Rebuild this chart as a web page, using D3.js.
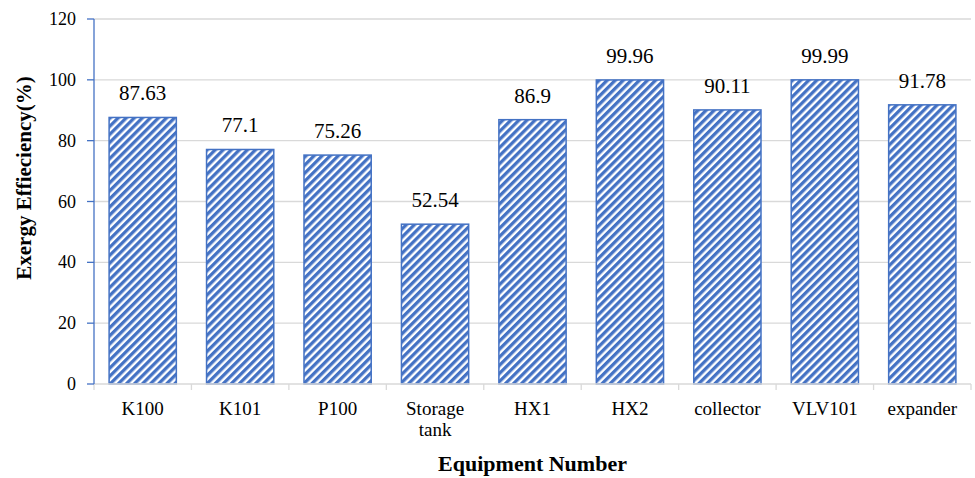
<!DOCTYPE html>
<html><head><meta charset="utf-8">
<script src="https://cdn.jsdelivr.net/npm/d3@7"></script>
<style>body{margin:0;background:#fff}</style>
</head><body>
<svg id="c" width="975" height="478"></svg>
<script>
const categories = ["K100","K101","P100","Storage\ntank","HX1","HX2","collector","VLV101","expander"];
const values = [87.63, 77.1, 75.26, 52.54, 86.9, 99.96, 90.11, 99.99, 91.78];
const valueLabels = ["87.63","77.1","75.26","52.54","86.9","99.96","90.11","99.99","91.78"];
const yTicks = [0,20,40,60,80,100,120];

const svg = d3.select("#c");
const m = {l:94, r:971, t:19, b:384};
const blue = "#4472C4";
const font = "'Liberation Serif','Times New Roman',serif";

const x = d3.scaleBand().domain(categories).range([m.l, m.r]).paddingInner(0.31).paddingOuter(0.155);
const xb = d3.scaleBand().domain(categories).range([m.l, m.r]);
const y = d3.scaleLinear().domain([0,120]).range([m.b, m.t]);

const defs = svg.append("defs");
const P = 5.7;
const pat = defs.append("pattern").attr("id","hatch").attr("patternUnits","userSpaceOnUse")
  .attr("width",P).attr("height",P).attr("patternTransform","rotate(45)");
pat.append("rect").attr("width",P).attr("height",P).attr("fill","#fff");
pat.append("rect").attr("x",0).attr("width",3.3).attr("height",P).attr("fill",blue);

// gridlines
svg.append("g").selectAll("line").data(yTicks.filter(d=>d>0)).join("line")
  .attr("x1",m.l).attr("x2",m.r).attr("y1",d=>y(d)).attr("y2",d=>y(d))
  .attr("stroke","#d9d9d9").attr("stroke-width",1.3);

// bars
svg.append("g").selectAll("rect").data(values).join("rect")
  .attr("x",(d,i)=>x(categories[i])).attr("width",x.bandwidth())
  .attr("y",d=>y(d)).attr("height",d=>y(0)-y(d))
  .attr("fill","url(#hatch)").attr("stroke",blue).attr("stroke-width",1.5);

// data labels
svg.append("g").selectAll("text").data(values).join("text")
  .attr("x",(d,i)=>x(categories[i])+x.bandwidth()/2).attr("y",d=>y(d)-17)
  .attr("text-anchor","middle").attr("font-family",font).attr("font-size",21).attr("fill","#000")
  .text((d,i)=>valueLabels[i]);

// x axis
const gx = svg.append("g");
gx.append("line").attr("x1",m.l).attr("x2",m.r).attr("y1",m.b).attr("y2",m.b).attr("stroke","#d9d9d9").attr("stroke-width",1.3);
const bounds = categories.map(c=>xb(c)).concat([m.r]);
gx.selectAll("line.t").data(bounds).join("line").attr("class","t")
  .attr("x1",d=>d).attr("x2",d=>d).attr("y1",m.b).attr("y2",m.b+6).attr("stroke","#d9d9d9").attr("stroke-width",1.3);
gx.selectAll("text").data(categories).join("text")
  .attr("text-anchor","middle").attr("font-family",font).attr("font-size",19).attr("fill","#000")
  .each(function(d){
    const t = d3.select(this);
    d.split("\n").forEach((s,i)=>{
      t.append("tspan").attr("x",xb(d)+xb.bandwidth()/2).attr("y",415+i*21).text(s);
    });
  });

// y axis
const gy = svg.append("g");
gy.append("line").attr("x1",m.l).attr("x2",m.l).attr("y1",m.t).attr("y2",m.b).attr("stroke",blue).attr("stroke-width",1.3);
gy.selectAll("line.t").data(yTicks).join("line").attr("class","t")
  .attr("x1",m.l-7).attr("x2",m.l).attr("y1",d=>y(d)).attr("y2",d=>y(d)).attr("stroke",blue).attr("stroke-width",1.3);
gy.selectAll("text").data(yTicks).join("text")
  .attr("x",76).attr("y",d=>y(d)+6).attr("text-anchor","end")
  .attr("font-family",font).attr("font-size",18).attr("fill","#000").text(d=>d);

// titles
svg.append("text").attr("x",(m.l+m.r)/2).attr("y",471).attr("text-anchor","middle")
  .attr("font-family",font).attr("font-size",22).attr("font-weight","bold").text("Equipment Number");
svg.append("text").attr("transform","translate(31,178) rotate(-90)").attr("text-anchor","middle")
  .attr("font-family",font).attr("font-size",21).attr("font-weight","bold").text("Exergy Effieciency(%)");
</script>
</body></html>
